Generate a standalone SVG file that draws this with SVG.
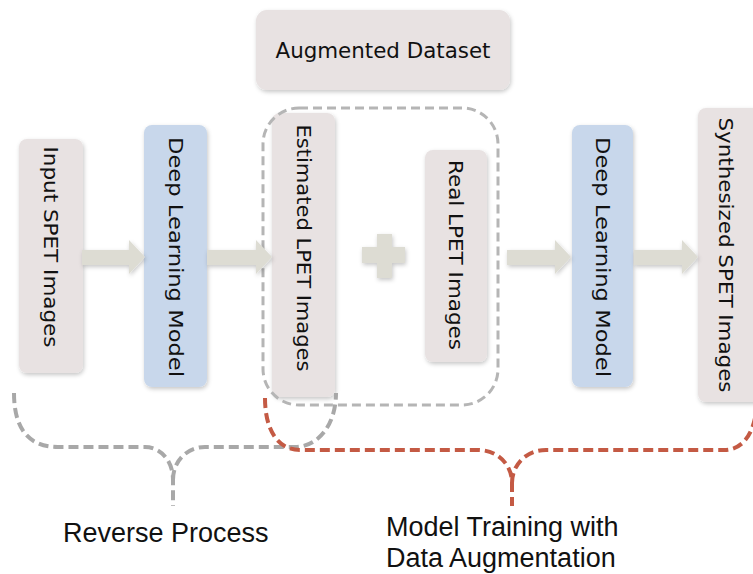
<svg xmlns="http://www.w3.org/2000/svg" width="753" height="574" viewBox="0 0 753 574">
<defs>
<filter id="sh" x="-20%" y="-20%" width="140%" height="140%">
<feDropShadow dx="1" dy="2" stdDeviation="2" flood-color="#000" flood-opacity="0.22"/>
</filter>
<style>
.box{fill:#e8e2e2;filter:url(#sh);}
.blue{fill:#c8d7eb;filter:url(#sh);}
.arr{fill:#dddcd3;filter:url(#sh);}
.vt{font-family:"DejaVu Sans",sans-serif;font-size:20px;fill:#111;text-anchor:middle;dominant-baseline:central;}
.lbl{font-family:"Liberation Sans",Arial,sans-serif;font-size:27px;fill:#111;}
.gb{fill:none;stroke:#a8a8a8;stroke-width:4;stroke-dasharray:10 5;}
.rb{fill:none;stroke:#c45a44;stroke-width:4;stroke-dasharray:10 5;}
.dr{fill:none;stroke:#b5b5b5;stroke-width:3;stroke-dasharray:9 5;}
</style>
</defs>
<rect width="753" height="574" fill="#fff"/>
<g id="augmented">
<rect class="box" x="256" y="10" width="254" height="80" rx="11"/>
<text x="383" y="50" class="vt" style="font-size:22px" textLength="215" lengthAdjust="spacingAndGlyphs">Augmented Dataset</text>
</g>
<g id="input">
<rect class="box" x="19" y="139" width="64" height="234" rx="8"/>
<text class="vt" transform="translate(51,247) rotate(90)" textLength="201" lengthAdjust="spacingAndGlyphs">Input SPET Images</text>
</g>
<g id="dlm1">
<rect class="blue" x="144" y="125" width="63" height="262" rx="8"/>
<text class="vt" transform="translate(176,257) rotate(90)" textLength="240" lengthAdjust="spacingAndGlyphs">Deep Learning Model</text>
</g>
<g id="estimated">
<rect class="box" x="272" y="113" width="63" height="284" rx="8"/>
<text class="vt" transform="translate(304,248) rotate(90)" textLength="247" lengthAdjust="spacingAndGlyphs">Estimated LPET Images</text>
</g>
<g id="real">
<rect class="box" x="425" y="150" width="62" height="212" rx="8"/>
<text class="vt" transform="translate(456,255) rotate(90)" textLength="190" lengthAdjust="spacingAndGlyphs">Real LPET Images</text>
</g>
<g id="dlm2">
<rect class="blue" x="572" y="125" width="61" height="262" rx="8"/>
<text class="vt" transform="translate(603,257) rotate(90)" textLength="240" lengthAdjust="spacingAndGlyphs">Deep Learning Model</text>
</g>
<g id="synth">
<rect class="box" x="698" y="108" width="70" height="294" rx="8"/>
<text class="vt" transform="translate(726,255) rotate(90)" textLength="275" lengthAdjust="spacingAndGlyphs">Synthesized SPET Images</text>
</g>
<g id="plus">
<polygon class="arr" points="377,234 392,234 392,247 405,247 405,263 392,263 392,278 377,278 377,263 362,263 362,247 377,247"/>
</g>
<g id="connectors">
<rect class="dr" x="263" y="108" width="235" height="297" rx="36"/>
<polygon class="arr" points="82,250 129,250 129,240 145,257 129,274 129,265 82,265"/>
<polygon class="arr" points="207,250 256,250 256,240 272,257 256,274 256,265 207,265"/>
<polygon class="arr" points="507,250 555,250 555,240 571,257 555,274 555,265 507,265"/>
<polygon class="arr" points="634,250 682,250 682,240 698,257 682,274 682,265 634,265"/>
<path class="gb" d="M14,393 C14,428 28,447 58,447 L145,447 C160,447 173,460 173,480 L173,506"/>
<path class="gb" d="M173,480 C173,460 188,447 205,447 L295,447 C318,447 336,425 336,393"/>
<path class="rb" d="M265,398 C265,430 278,450 300,450 L478,450 C498,450 512,465 512,483 L512,506"/>
<path class="rb" d="M512,483 C512,465 526,450 546,450 L724,450 C742,450 753,435 756,412"/>
</g>
<text class="lbl" x="63" y="542">Reverse Process</text>
<text class="lbl" x="386" y="536">Model Training with</text>
<text class="lbl" x="386" y="567">Data Augmentation</text>
</svg>
